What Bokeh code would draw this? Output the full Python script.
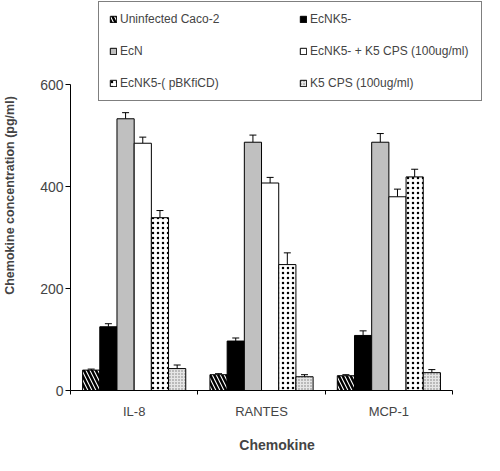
from bokeh.plotting import figure
from bokeh.models import (ColumnDataSource, Range1d, FixedTicker, Whisker, TeeHead,
                          Legend, LegendItem)
from bokeh.embed import file_html
from bokeh.resources import INLINE

# ---------------- data ----------------
categories = ["IL-8", "RANTES", "MCP-1"]
series_names = ["Uninfected Caco-2", "EcNK5-", "EcN", "EcNK5- + K5 CPS (100ug/ml)",
                "EcNK5-( pBKfiCD)", "K5 CPS (100ug/ml)"]
uninfected = [40, 31, 29]
uninfected_err = [2, 2, 2]
ecnk5 = [125, 97, 108]
ecnk5_err = [6, 6, 9]
ecn = [533, 487, 487]
ecn_err = [12, 14, 17]
ecnk5_k5cps = [485, 407, 380]
ecnk5_k5cps_err = [12, 11, 15]
ecnk5_pbk = [339, 247, 419]
ecnk5_pbk_err = [14, 23, 15]
k5cps = [43, 27, 35]
k5cps_err = [7, 4, 6]
y_ticks = [0, 200, 400, 600]
x_title = "Chemokine"
y_title = "Chemokine concentration (pg/ml)"

values = [uninfected, ecnk5, ecn, ecnk5_k5cps, ecnk5_pbk, k5cps]
errors = [uninfected_err, ecnk5_err, ecn_err, ecnk5_k5cps_err, ecnk5_pbk_err, k5cps_err]

styles = [
    dict(fill_color="white", hatch_pattern="left_diagonal_line", hatch_color="black",
         hatch_scale=8, hatch_weight=2.5),
    dict(fill_color="black"),
    dict(fill_color="#c0c0c0"),
    dict(fill_color="white"),
    dict(fill_color="white", hatch_pattern="dot", hatch_color="black",
         hatch_scale=5, hatch_weight=6),
    dict(fill_color="#e6e6e6", hatch_pattern="dot", hatch_color="#777777",
         hatch_scale=3, hatch_weight=1),
]

# ---------------- figure ----------------
FONT = "Liberation Sans"
p = figure(width=484, height=455, output_backend="svg", toolbar_location=None,
           x_range=Range1d(0, 3.243), y_range=Range1d(0, 765),
           min_border_left=69, min_border_right=1, min_border_top=0, min_border_bottom=30)
p.outline_line_color = None
p.xgrid.visible = False
p.ygrid.visible = False
p.background_fill_color = "white"

bw = 0.135
n = len(values)
renderers = []
for k in range(n):
    off = (k - (n - 1) / 2) * bw
    xs = [i + 0.5 + off for i in range(len(categories))]
    src = ColumnDataSource(dict(x=xs, top=values[k],
                                upper=[v + e for v, e in zip(values[k], errors[k])]))
    p.add_layout(Whisker(source=src, base="x", upper="upper", lower="top",
                         line_color="black", line_width=1,
                         upper_head=TeeHead(size=7, line_color="black", line_width=1),
                         lower_head=None))
    r = p.vbar(x="x", top="top", width=bw, source=src, line_color="black",
               line_width=1, **styles[k])
    renderers.append(r)

legend = Legend(items=[LegendItem(label=series_names[k], renderers=[renderers[k]]) for k in range(n)],
                location="top_right", orientation="horizontal", ncols=2,
                label_text_font=FONT, label_text_font_size="12px",
                glyph_width=8, glyph_height=8, label_standoff=3,
                label_height=10, label_width=161, spacing=18, padding=10, margin=1,
                border_line_color="black", border_line_width=1,
                background_fill_alpha=1.0)
p.add_layout(legend, "center")

# x axis
xa = p.xaxis[0]
xa.ticker = FixedTicker(ticks=[i + 0.5 for i in range(len(categories))],
                        minor_ticks=list(range(len(categories) + 1)))
xa.major_label_overrides = {i + 0.5: c for i, c in enumerate(categories)}
xa.bounds = (0, len(categories))
xa.major_tick_line_color = None
xa.major_tick_out = 0
xa.major_tick_in = 0
xa.minor_tick_out = 4
xa.minor_tick_in = 0
xa.minor_tick_line_color = "black"
xa.major_label_standoff = 9
xa.major_label_text_font = FONT
xa.major_label_text_font_size = "13px"
xa.axis_label = x_title
xa.axis_label_text_font = FONT
xa.axis_label_text_font_style = "bold"
xa.axis_label_text_font_size = "14px"
xa.axis_label_standoff = 15
xa.axis_line_color = "black"

ya = p.yaxis[0]
ya.ticker = FixedTicker(ticks=y_ticks, minor_ticks=[])
ya.bounds = (0, 600)
ya.major_tick_out = 5
ya.major_tick_in = 0
ya.minor_tick_line_color = None
ya.major_label_standoff = 2
ya.major_label_text_font = FONT
ya.major_label_text_font_size = "14px"
ya.axis_label = y_title
ya.axis_label_text_font = FONT
ya.axis_label_text_font_style = "bold"
ya.axis_label_text_font_size = "12.5px"
ya.axis_label_standoff = 20
ya.axis_line_color = "black"

open("out.html", "w").write(file_html(p, INLINE))
